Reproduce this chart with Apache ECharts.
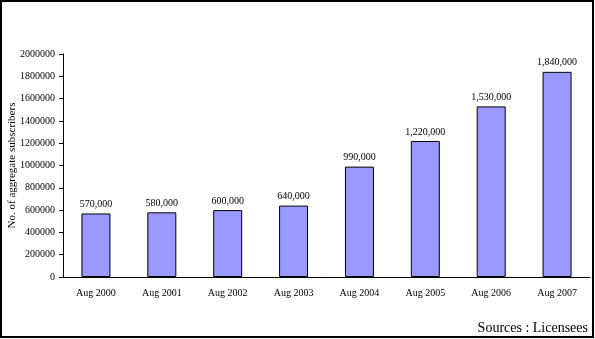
<!DOCTYPE html>
<html>
<head>
<meta charset="utf-8">
<script src="https://cdn.jsdelivr.net/npm/echarts@6/dist/echarts.min.js"></script>
<style>
  html, body { margin: 0; padding: 0; background: #fff; }
  #chart { width: 595px; height: 339px; }
</style>
</head>
<body>
<div id="chart"></div>
<script>
// Aggregate subscribers by year (August of each year)
const categories = ['Aug 2000', 'Aug 2001', 'Aug 2002', 'Aug 2003', 'Aug 2004', 'Aug 2005', 'Aug 2006', 'Aug 2007'];
const subscribers = [570000, 580000, 600000, 640000, 990000, 1220000, 1530000, 1840000];
const yTicks = [0, 200000, 400000, 600000, 800000, 1000000, 1200000, 1400000, 1600000, 1800000, 2000000];

const FONT = '"Liberation Serif", "Times New Roman", serif';

const chart = echarts.init(document.getElementById('chart'), null, { renderer: 'canvas' });

chart.setOption({
  animation: false,
  backgroundColor: '#ffffff',
  textStyle: { fontFamily: FONT, color: '#000' },
  grid: { left: 63, right: 5, top: 54, bottom: 62, containLabel: false, outerBoundsMode: 'none' },
  graphic: [
    {
      type: 'rect',
      shape: { x: 1, y: 1, width: 592, height: 336 },
      style: { fill: 'none', stroke: '#000', lineWidth: 2 },
      silent: true
    },
    {
      type: 'text',
      right: 7,
      top: 321,
      style: {
        text: 'Sources : Licensees',
        font: '14px ' + FONT,
        fill: '#000'
      }
    }
  ],
  xAxis: {
    type: 'category',
    data: categories,
    axisLine: { lineStyle: { color: '#000', width: 1 } },
    axisTick: { inside: true, length: 4, lineStyle: { color: '#000' } },
    axisLabel: { color: '#000', fontSize: 10, fontFamily: FONT, margin: 11 },
    splitLine: { show: false }
  },
  yAxis: {
    type: 'value',
    min: yTicks[0],
    max: yTicks[yTicks.length - 1],
    interval: yTicks[1] - yTicks[0],
    name: 'No. of aggregate subscribers',
    nameLocation: 'middle',
    nameGap: 45,
    nameMoveOverlap: false,
    nameRotate: 90,
    nameTextStyle: { color: '#000', fontSize: 11, fontFamily: FONT },
    axisLine: { show: true, lineStyle: { color: '#000', width: 1 } },
    axisTick: { show: true, inside: false, length: 4, lineStyle: { color: '#000' } },
    axisLabel: { color: '#000', fontSize: 10, fontFamily: FONT, margin: 8, formatter: v => String(v) },
    splitLine: { show: false }
  },
  series: [{
    type: 'bar',
    data: subscribers,
    barWidth: 29,
    itemStyle: { color: '#9999ff', borderColor: '#000', borderWidth: 1 },
    label: {
      show: true,
      position: 'top',
      distance: 4,
      color: '#000',
      fontSize: 10,
      fontFamily: FONT,
      formatter: p => p.value.toLocaleString('en-US')
    }
  }]
});
</script>
</body>
</html>
